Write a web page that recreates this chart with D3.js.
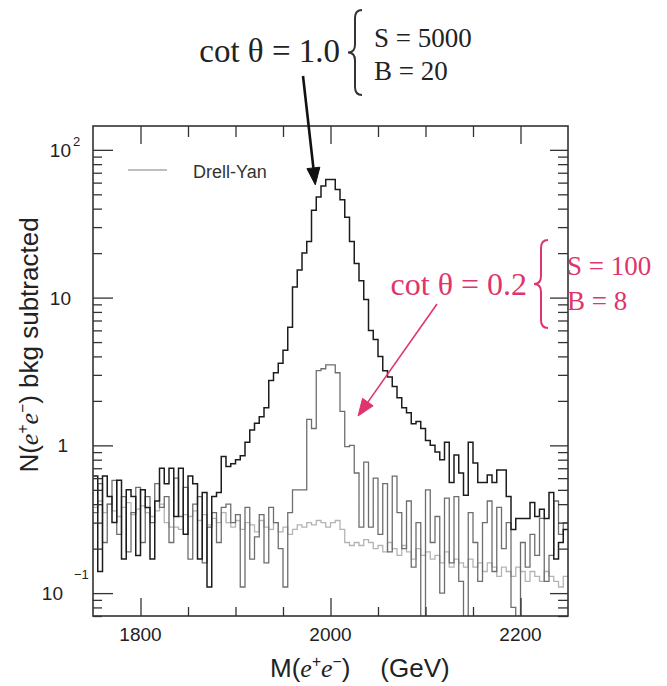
<!DOCTYPE html>
<html>
<head>
<meta charset="utf-8">
<script src="https://cdn.jsdelivr.net/npm/d3@7"></script>
<style>
  html, body { margin: 0; padding: 0; background: #fff; }
  svg { display: block; }
</style>
</head>
<body>
<svg id="chart" width="667" height="686"></svg>
<script>
// Histogram binning: 100 bins of 5 GeV between 1750 and 2250 GeV
const massRange = [1750, 2250];
const binWidth = 5;

// Background-subtracted e+e- counts per bin, cot(theta) = 1.0 signal
const countsCot10 = [
  0.62, 0.14, 0.62, 0.45, 0.30, 0.58, 0.17, 0.50, 0.45, 0.18,
  0.50, 0.38, 0.17, 0.42, 0.70, 0.55, 0.70, 0.33, 0.70, 0.25,
  0.62, 0.55, 0.17, 0.48, 0.11, 0.45, 0.48, 0.84, 0.72, 0.75,
  0.80, 0.85, 1.05, 1.27, 1.41, 1.56, 1.80, 2.75, 3.10, 3.60,
  4.40, 6.30, 11.8, 15.4, 20.0, 24.0, 39.0, 48.0, 57.0, 63.0,
  63.0, 54.0, 46.0, 35.0, 24.0, 17.0, 13.0, 9.70, 6.00, 5.20,
  4.00, 3.20, 2.90, 2.50, 2.10, 1.80, 1.66, 1.40, 1.45, 1.30,
  1.08, 1.00, 0.90, 0.80, 1.05, 0.56, 0.86, 0.65, 0.46, 1.05,
  0.76, 0.56, 0.56, 0.63, 0.56, 0.68, 0.68, 0.45, 0.27, 0.32,
  0.32, 0.32, 0.41, 0.33, 0.37, 0.32, 0.48, 0.17, 0.22, 0.27
];

// Background-subtracted counts per bin, cot(theta) = 0.2 signal
const countsCot02 = [
  0.35, 0.55, 0.22, 0.40, 0.58, 0.25, 0.45, 0.19, 0.35, 0.52,
  0.22, 0.45, 0.30, 0.55, 0.38, 0.45, 0.22, 0.60, 0.33, 0.52,
  0.17, 0.40, 0.45, 0.16, 0.28, 0.35, 0.22, 0.38, 0.40, 0.30,
  0.34, 0.11, 0.38, 0.17, 0.24, 0.34, 0.16, 0.38, 0.30, 0.20,
  0.11, 0.35, 0.50, 0.50, 0.50, 1.50, 1.30, 3.20, 3.30, 3.50,
  3.50, 3.10, 1.70, 0.98, 1.00, 0.65, 0.28, 0.77, 0.28, 0.60,
  0.25, 0.55, 0.19, 0.62, 0.35, 0.20, 0.42, 0.15, 0.30, 0.06,
  0.50, 0.22, 0.33, 0.10, 0.44, 0.16, 0.45, 0.12, 0.05, 0.35,
  0.22, 0.12, 0.30, 0.42, 0.14, 0.38, 0.20, 0.30, 0.08, 0.05,
  0.22, 0.15, 0.25, 0.18, 0.32, 0.12, 0.18, 0.42, 0.25, 0.30
];

// Drell-Yan expectation per bin
const countsDrellYan = [
  0.38, 0.42, 0.35, 0.40, 0.36, 0.33, 0.38, 0.41, 0.34, 0.37,
  0.39, 0.35, 0.33, 0.36, 0.40, 0.30, 0.28, 0.28, 0.27, 0.34,
  0.33, 0.36, 0.31, 0.34, 0.29, 0.32, 0.30, 0.35, 0.30, 0.28,
  0.31, 0.27, 0.30, 0.29, 0.26, 0.31, 0.28, 0.27, 0.30, 0.26,
  0.28, 0.25, 0.27, 0.29, 0.28, 0.30, 0.29, 0.31, 0.30, 0.28,
  0.30, 0.31, 0.27, 0.22, 0.21, 0.22, 0.21, 0.23, 0.22, 0.20,
  0.21, 0.19, 0.22, 0.20, 0.18, 0.21, 0.19, 0.17, 0.20, 0.18,
  0.19, 0.17, 0.18, 0.16, 0.19, 0.15, 0.17, 0.16, 0.15, 0.17,
  0.15, 0.16, 0.14, 0.16, 0.15, 0.13, 0.15, 0.14, 0.13, 0.15,
  0.14, 0.12, 0.14, 0.13, 0.12, 0.14, 0.13, 0.12, 0.11, 0.13
];

// Axis ticks and labels
const xMajorTicks = [1800, 2000, 2200];
const xMinorTicks = [1850, 1900, 1950, 2050, 2100, 2150];
const yMajorTicks = [0.1, 1, 10, 100];
const yTickLabels = [
  { value: 100, base: "10", sup: "2" },
  { value: 10,  base: "10", sup: "" },
  { value: 1,   base: "1",  sup: "" },
  { value: 0.1, base: "10", sup: "-1" }
];

// Annotation targets (mass in GeV, count)
const arrowCot10Target = [1984, 58];
const arrowCot02Target = [2029, 1.58];

const svg = d3.select("#chart");
const plot = { left: 93, right: 568, top: 126, bottom: 616 };

const x = d3.scaleLinear().domain(massRange).range([plot.left, plot.right]);
const y = d3.scaleLog().domain([0.07, 145]).range([plot.bottom, plot.top]);

const SANS = "'Liberation Sans', Arial, Helvetica, sans-serif";
const SERIF = "'Liberation Serif', 'Times New Roman', serif";
const RED = "#e0356c";

// Clip region for the histograms
svg.append("defs").append("clipPath").attr("id", "plotClip")
  .append("rect")
  .attr("x", plot.left).attr("y", plot.top)
  .attr("width", plot.right - plot.left).attr("height", plot.bottom - plot.top);

// Step histograms
function stepPoints(counts) {
  const pts = counts.map((c, i) => [massRange[0] + i * binWidth, c]);
  pts.push([massRange[0] + counts.length * binWidth, counts[counts.length - 1]]);
  return pts;
}
const stepLine = d3.line()
  .x(d => x(d[0]))
  .y(d => y(Math.max(d[1], 0.01)))
  .curve(d3.curveStepAfter);

const hist = svg.append("g").attr("clip-path", "url(#plotClip)");
hist.append("path").attr("d", stepLine(stepPoints(countsDrellYan)))
  .attr("fill", "none").attr("stroke", "#b4b4b4").attr("stroke-width", 1.3);
hist.append("path").attr("d", stepLine(stepPoints(countsCot02)))
  .attr("fill", "none").attr("stroke", "#6e6e6e").attr("stroke-width", 1.3);
hist.append("path").attr("d", stepLine(stepPoints(countsCot10)))
  .attr("fill", "none").attr("stroke", "#1c1c1c").attr("stroke-width", 1.5);

// Frame
svg.append("rect")
  .attr("x", plot.left).attr("y", plot.top)
  .attr("width", plot.right - plot.left).attr("height", plot.bottom - plot.top)
  .attr("fill", "none").attr("stroke", "#333").attr("stroke-width", 1.6);

// Minor log ticks within the domain
const yMinorTicks = [];
[0.01, 0.1, 1, 10].forEach(dec => {
  for (let k = 2; k <= 9; k++) {
    const v = +(k * dec).toPrecision(3);
    if (v >= y.domain()[0] && v <= y.domain()[1]) yMinorTicks.push(v);
  }
});

function tickAxis(axisFn, scale, ticks, size) {
  return axisFn(scale).tickValues(ticks).tickSize(size).tickFormat("");
}
function drawAxis(axis, transform) {
  const g = svg.append("g").attr("transform", transform).call(axis);
  g.select(".domain").remove();
  g.selectAll(".tick line").attr("stroke", "#333").attr("stroke-width", 1.3);
  return g;
}
// Left axis ticks point inward (to the right)
drawAxis(tickAxis(d3.axisRight, y, yMajorTicks, 20), `translate(${plot.left},0)`);
drawAxis(tickAxis(d3.axisRight, y, yMinorTicks, 9), `translate(${plot.left},0)`);
// Right axis ticks point inward (to the left)
drawAxis(tickAxis(d3.axisLeft, y, yMajorTicks, 18), `translate(${plot.right},0)`);
drawAxis(tickAxis(d3.axisLeft, y, yMinorTicks, 10), `translate(${plot.right},0)`);
// Bottom axis ticks point up, top axis ticks point down
drawAxis(tickAxis(d3.axisTop, x, xMajorTicks, 18), `translate(0,${plot.bottom})`);
drawAxis(tickAxis(d3.axisTop, x, xMinorTicks, 9), `translate(0,${plot.bottom})`);
drawAxis(tickAxis(d3.axisBottom, x, xMajorTicks, 18), `translate(0,${plot.top})`);
drawAxis(tickAxis(d3.axisBottom, x, xMinorTicks, 11), `translate(0,${plot.top})`);

// X tick labels
svg.append("g").selectAll("text").data(xMajorTicks).join("text")
  .attr("x", d => x(d)).attr("y", plot.bottom + 25)
  .attr("text-anchor", "middle")
  .attr("font-family", SANS).attr("font-size", 19).attr("fill", "#222")
  .text(d => d);

// Y tick labels (powers of ten)
yTickLabels.forEach(t => {
  const ty = y(t.value);
  const negative = t.sup.startsWith("-");
  const baseEnd = negative ? 63 : (t.base === "1" ? 68 : 71);
  svg.append("text")
    .attr("x", baseEnd).attr("y", ty + 7)
    .attr("text-anchor", "end")
    .attr("font-family", SANS).attr("font-size", 19).attr("fill", "#222")
    .text(t.base);
  if (t.sup) {
    svg.append("text")
      .attr("x", negative ? 74 : baseEnd + 2).attr("y", ty - (negative ? 14 : 4))
      .attr("font-family", SANS).attr("font-size", 13).attr("fill", "#222")
      .text(t.sup.replace("-", "\u2212"));
  }
});

// Axis titles: N(e+e-) bkg subtracted and M(e+e-) (GeV)
function eePair(textSel, size) {
  textSel.append("tspan").attr("font-family", SERIF).attr("font-style", "italic").text("e");
  textSel.append("tspan").attr("font-size", size * 0.6).attr("dy", -size * 0.4).text("+");
  textSel.append("tspan").attr("font-family", SERIF).attr("font-style", "italic")
    .attr("dy", size * 0.4).text("e");
  textSel.append("tspan").attr("font-size", size * 0.6).attr("dy", -size * 0.4).text("\u2212");
}
const xTitle = svg.append("text")
  .attr("x", 270).attr("y", 677)
  .attr("font-family", SANS).attr("font-size", 26).attr("fill", "#222");
xTitle.append("tspan").text("M(");
eePair(xTitle, 26);
xTitle.append("tspan").attr("dy", 26 * 0.4).text(")");
xTitle.append("tspan").attr("dx", 30).text("(GeV)");

const yTitle = svg.append("text")
  .attr("transform", "translate(38,345) rotate(-90)")
  .attr("text-anchor", "middle")
  .attr("font-family", SANS).attr("font-size", 26).attr("fill", "#222");
yTitle.append("tspan").text("N(");
eePair(yTitle, 26);
yTitle.append("tspan").attr("dy", 26 * 0.4).text(") bkg subtracted");

// Legend
svg.append("line")
  .attr("x1", 128).attr("x2", 167).attr("y1", 170).attr("y2", 170)
  .attr("stroke", "#a8a8a8").attr("stroke-width", 1.5);
svg.append("text")
  .attr("x", 193).attr("y", 178)
  .attr("font-family", SANS).attr("font-size", 18).attr("fill", "#333")
  .text("Drell-Yan");

// Annotation helpers
function arrow(from, tipData, color, width) {
  const tip = [x(tipData[0]), y(tipData[1])];
  const dx = tip[0] - from[0], dy = tip[1] - from[1];
  const len = Math.hypot(dx, dy);
  const ux = dx / len, uy = dy / len;
  const headLen = 17, headHalf = 6.5;
  const base = [tip[0] - ux * headLen, tip[1] - uy * headLen];
  svg.append("line")
    .attr("x1", from[0]).attr("y1", from[1]).attr("x2", base[0]).attr("y2", base[1])
    .attr("stroke", color).attr("stroke-width", width);
  svg.append("path")
    .attr("d", d3.line()([
      tip,
      [base[0] - uy * headHalf, base[1] + ux * headHalf],
      [base[0] + uy * headHalf, base[1] - ux * headHalf]
    ]) + "Z")
    .attr("fill", color).attr("stroke", color).attr("stroke-width", 1);
}
function brace(xPoint, yTop, yBottom, color) {
  const yMid = (yTop + yBottom) / 2;
  const xs = xPoint + 7, xe = xPoint + 14;
  const p = d3.path();
  p.moveTo(xe, yTop);
  p.quadraticCurveTo(xs, yTop, xs, yTop + 8);
  p.lineTo(xs, yMid - 8);
  p.quadraticCurveTo(xs, yMid, xPoint, yMid);
  p.quadraticCurveTo(xs, yMid, xs, yMid + 8);
  p.lineTo(xs, yBottom - 8);
  p.quadraticCurveTo(xs, yBottom, xe, yBottom);
  svg.append("path").attr("d", p.toString())
    .attr("fill", "none").attr("stroke", color).attr("stroke-width", 2);
}

// cot theta = 1.0 annotation
svg.append("text")
  .attr("x", 340).attr("y", 62).attr("text-anchor", "end")
  .attr("font-family", SERIF).attr("font-size", 33).attr("fill", "#222")
  .text("cot \u03b8 = 1.0");
brace(348, 10, 95, "#333");
svg.append("text").attr("x", 374).attr("y", 47)
  .attr("font-family", SERIF).attr("font-size", 27).attr("fill", "#222").text("S = 5000");
svg.append("text").attr("x", 374).attr("y", 80)
  .attr("font-family", SERIF).attr("font-size", 27).attr("fill", "#222").text("B = 20");
arrow([303, 76], arrowCot10Target, "#111", 2.6);

// cot theta = 0.2 annotation
svg.append("text")
  .attr("x", 527).attr("y", 295).attr("text-anchor", "end")
  .attr("font-family", SERIF).attr("font-size", 32).attr("fill", RED)
  .text("cot \u03b8 = 0.2");
brace(534, 240, 328, RED);
svg.append("text").attr("x", 567).attr("y", 275)
  .attr("font-family", SERIF).attr("font-size", 27).attr("fill", RED).text("S = 100");
svg.append("text").attr("x", 567).attr("y", 310)
  .attr("font-family", SERIF).attr("font-size", 27).attr("fill", RED).text("B = 8");
arrow([437, 304], arrowCot02Target, RED, 1.6);
</script>
</body>
</html>
